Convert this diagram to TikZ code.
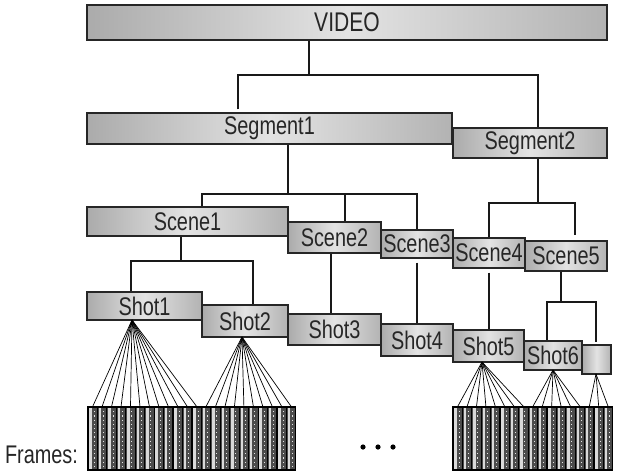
\documentclass[tikz,border=0pt]{standalone}
\usepackage{fontspec}
\newfontfamily\labfont{Liberation Sans}[FakeStretch=0.78]
\usetikzlibrary{calc}
\begin{document}
\begin{tikzpicture}[x=1pt,y=-1pt,
  box/.style={draw=black!85, line width=1.3pt, left color=black!33, right color=black!30, middle color=black!11,
    inner sep=0pt, font=\labfont\fontsize{25.5}{25.5}\selectfont, text=black!85},
  link/.style={line width=1.8pt, black!90},
  fan/.style={line width=0.7pt, black},
  filmframe/.style={rectangle, draw=black, line width=1.1pt, fill=black!70, inner sep=0pt,
    minimum width=9.4pt, minimum height=63pt,
    path picture={
      \fill[black!15] ([xshift=1.3pt]path picture bounding box.south west) rectangle ([xshift=3.8pt]path picture bounding box.north west);
      \draw[black!10, line width=1pt, dash pattern=on 1.2pt off 3pt] ([xshift=1.4pt]path picture bounding box.north) -- ([xshift=1.4pt]path picture bounding box.south);
    }},
]
\useasboundingbox (0,0) rectangle (619,475);

% junction coordinates
\coordinate (v1) at (309,75);
\coordinate (v2) at (238,75);
\coordinate (v3) at (538,75);
\coordinate (s1) at (288,194);
\coordinate (s2) at (202,194);
\coordinate (s3) at (345,194);
\coordinate (s4) at (417,194);
\coordinate (t1) at (538,203);
\coordinate (t2) at (489,203);
\coordinate (t3) at (575,203);
\coordinate (u1) at (181,261);
\coordinate (u2) at (131,261);
\coordinate (u3) at (253,261);
\coordinate (w1) at (331,300);
\coordinate (w2) at (417,300);
\coordinate (w3) at (489,300);
\coordinate (x1) at (561,302);
\coordinate (x2) at (547,302);
\coordinate (x3) at (596,302);

% boxes
\node[box, minimum width=520pt, minimum height=35pt, font=\labfont\fontsize{27}{27}\selectfont] (video) at (347,22.5) {VIDEO};
\node[box, minimum width=365pt, minimum height=31pt] (seg1) at (269.5,128.5) {Segment1};
\node[box, minimum width=154pt, minimum height=30pt] (seg2) at (530,143) {Segment2};
\node[box, minimum width=201pt, minimum height=29pt] (scene1) at (187.5,221.5) {Scene1};
\node[box, minimum width=93pt, minimum height=31pt] (scene2) at (334.5,237.5) {Scene2};
\node[box, minimum width=72pt, minimum height=28pt] (scene3) at (417,244) {Scene3};
\node[box, minimum width=72pt, minimum height=30pt] (scene4) at (489,253) {Scene4};
\node[box, minimum width=82pt, minimum height=30pt] (scene5) at (566,256) {Scene5};
\node[box, minimum width=115pt, minimum height=28pt] (shot1) at (144.5,306) {Shot1};
\node[box, minimum width=86pt, minimum height=32pt] (shot2) at (245,321) {Shot2};
\node[box, minimum width=93pt, minimum height=31pt] (shot3) at (334.5,329.5) {Shot3};
\node[box, minimum width=72pt, minimum height=32pt] (shot4) at (417,340) {Shot4};
\node[box, minimum width=71pt, minimum height=32pt] (shot5) at (488.5,346) {Shot5};
\node[box, minimum width=58pt, minimum height=29pt] (shot6) at (553,355.5) {Shot6};
\node[box, minimum width=29pt, minimum height=29pt] (small) at (596.5,359.5) {};

% tree connectors
\draw[link] (video.south -| v1) -- (v1);
\draw[link] ($(seg1.north -| v2)+(0,-3)$) -- (v2) -- (v3) -- (seg2.north -| v3);
\draw[link] (seg1.south -| s1) -- (s1);
\draw[link] (scene1.north -| s2) -- (s2) -- (s4) -- (scene3.north -| s4);
\draw[link] (s3) -- (scene2.north -| s3);
\draw[link] (seg2.south -| t1) -- (t1);
\draw[link] (scene4.north -| t2) -- (t2) -- (t3) -- ($(scene5.north -| t3)+(0,-5)$);
\draw[link] (scene1.south -| u1) -- (u1);
\draw[link] (shot1.north -| u2) -- (u2) -- (u3) -- (shot2.north -| u3);
\draw[link] (scene2.south -| w1) -- (shot3.north -| w1);
\draw[link] ($(scene3.south -| w2)+(0,4)$) -- (shot4.north -| w2);
\draw[link] ($(scene4.south -| w3)+(0,4)$) -- (shot5.north -| w3);
\draw[link] (scene5.south -| x1) -- (x1);
\draw[link] (shot6.north -| x2) -- (x2) -- (x3) -- ($(small.north -| x3)+(0,-2)$);

% frames
\foreach \i in {0,...,21} {
  \node[filmframe] (L\i) at ({92.7+9.45*\i},438.5) {};
}
\foreach \j in {0,...,16} {
  \node[filmframe] (R\j) at ({457.7+9.4*\j},438.5) {};
}

% fan apexes
\coordinate (a1) at (132,320);
\coordinate (a2) at (242,337);
\coordinate (a5) at (482,362);
\coordinate (a6) at (553,370);
\coordinate (a7) at (596,374);
\foreach \i in {0,...,11} { \draw[fan] (a1) -- (L\i.north); }
\foreach \i in {12,...,21} { \draw[fan] (a2) -- (L\i.north); }
\foreach \j in {0,...,7} { \draw[fan] (a5) -- (R\j.north); }
\foreach \j in {8,...,13} { \draw[fan] (a6) -- (R\j.north); }
\foreach \j in {14,...,16} { \draw[fan] (a7) -- (R\j.north); }

% labels
\node[font=\labfont\fontsize{25.5}{25.5}\selectfont, text=black!85] (frameslabel) at (41.5,455) {Frames:};
\fill[black] (363,447) circle (2.6) (378,447) circle (2.6) (393,447) circle (2.6);
\end{tikzpicture}
\end{document}
